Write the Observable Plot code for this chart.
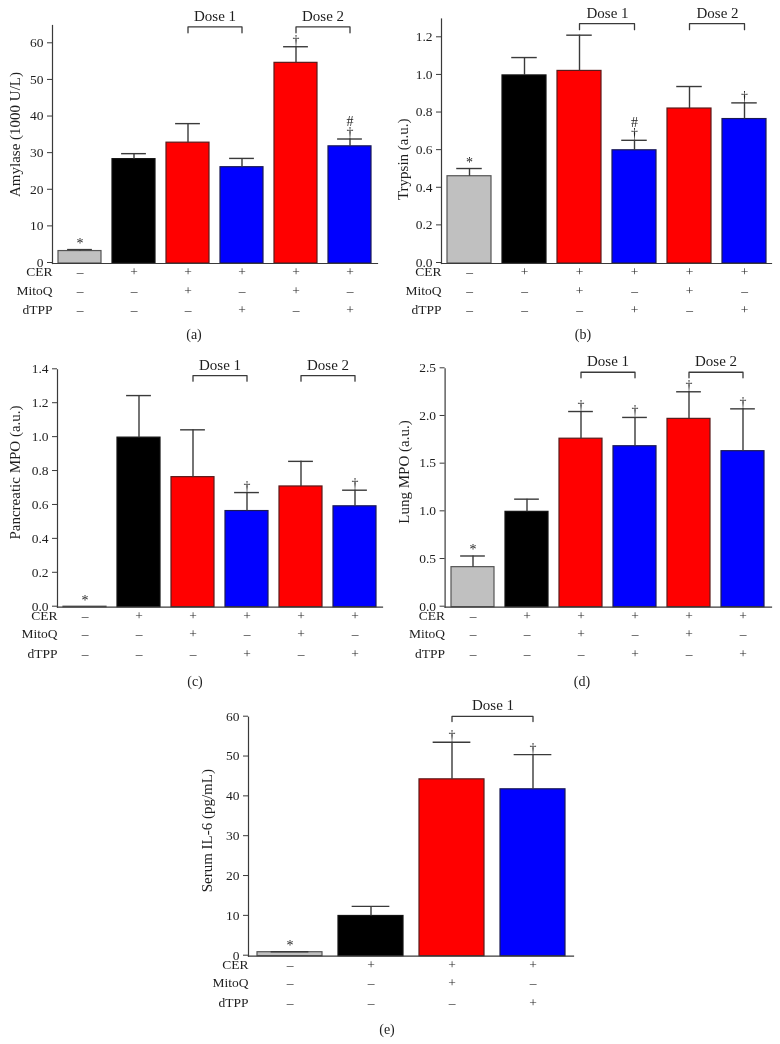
<!DOCTYPE html>
<html>
<head>
<meta charset="utf-8">
<script src="https://cdn.jsdelivr.net/npm/d3@7"></script>
<script src="https://cdn.jsdelivr.net/npm/@observablehq/plot@0.6"></script>
<style>
  html, body { margin: 0; padding: 0; background: #fff; }
  #root { position: relative; width: 780px; height: 1044px; overflow: hidden; font-family: "Liberation Serif", serif; color: #222; }
  #root svg { position: absolute; overflow: visible; will-change: transform; }
  .cap { position: absolute; font-size: 14px; transform: translate(-50%, -50%); will-change: transform; }
</style>
</head>
<body>
<div id="root"></div>
<script>
// ---------- data ----------
const groups = ["Control", "CER", "CER+MitoQ (Dose 1)", "CER+dTPP (Dose 1)", "CER+MitoQ (Dose 2)", "CER+dTPP (Dose 2)"];
const groupsIL6 = ["Control", "CER", "CER+MitoQ (Dose 1)", "CER+dTPP (Dose 1)"];
const rowNames = ["CER", "MitoQ", "dTPP"];
const cerRow   = ["–", "+", "+", "+", "+", "+"];
const mitoqRow = ["–", "–", "+", "–", "+", "–"];
const dtppRow  = ["–", "–", "–", "+", "–", "+"];

const amylaseMean = [3.4, 28.5, 33.0, 26.3, 54.8, 32.0];
const amylaseSem  = [0.4, 1.5, 5.2, 2.4, 4.4, 2.0];
const amylaseSig  = ["*", "", "", "", "†", "#\n†"];
const amylaseTicks = [0, 10, 20, 30, 40, 50, 60];

const trypsinMean = [0.464, 1.0, 1.024, 0.602, 0.824, 0.768];
const trypsinSem  = [0.041, 0.095, 0.19, 0.053, 0.117, 0.086];
const trypsinSig  = ["*", "", "", "#\n†", "", "†"];
const trypsinTicks = [0, 0.2, 0.4, 0.6, 0.8, 1.0, 1.2];

const pancMpoMean = [0.003, 1.0, 0.767, 0.567, 0.712, 0.595];
const pancMpoSem  = [0, 0.248, 0.279, 0.109, 0.148, 0.095];
const pancMpoSig  = ["*", "", "", "†", "", "†"];
const pancMpoTicks = [0, 0.2, 0.4, 0.6, 0.8, 1.0, 1.2, 1.4];

const lungMpoMean = [0.42, 1.0, 1.767, 1.688, 1.975, 1.636];
const lungMpoSem  = [0.117, 0.133, 0.285, 0.302, 0.284, 0.444];
const lungMpoSig  = ["*", "", "†", "†", "†", "†"];
const lungMpoTicks = [0, 0.5, 1.0, 1.5, 2.0, 2.5];

const il6Mean = [1.0, 10.1, 44.4, 41.9];
const il6Sem  = [0.1, 2.4, 9.3, 8.7];
const il6Sig  = ["*", "", "†", "†"];
const il6Ticks = [0, 10, 20, 30, 40, 50, 60];

const doseNames = ["Dose 1", "Dose 2"];
const doseFrom  = [groups[2], groups[4]];
const doseTo    = [groups[3], groups[5]];

// ---------- drawing ----------
const FONT = "Liberation Serif";
const AXIS = "#3a3a3a";
const INK = "#1e1e1e";

function fillOf(i) {
  if (cerRow[i] !== "+") return "#c0c0c0";
  if (mitoqRow[i] === "+") return "#ff0000";
  if (dtppRow[i] === "+") return "#0000ff";
  return "#000000";
}
function strokeOf(i) {
  if (cerRow[i] !== "+") return "#555555";
  if (mitoqRow[i] === "+") return "#5a1a1a";
  if (dtppRow[i] === "+") return "#1a1a55";
  return "#111111";
}

function panel(p) {
  const g = p.groups;
  const data = g.map((name, i) => ({
    g: name, v: p.mean[i], e: p.sem[i], top: p.mean[i] + p.sem[i], sig: p.sig[i],
    fill: fillOf(i), stroke: strokeOf(i)
  }));
  const frameW = p.width - p.ml - p.mr;
  const band = frameW / g.length * 0.8;
  const inset = band * 0.21;
  const nB = p.doses;
  const bracketPts = [];
  for (let k = 0; k < nB; k++) {
    bracketPts.push({z: k, x: doseFrom[k], y: p.tipLevel});
    bracketPts.push({z: k, x: doseFrom[k], y: p.bracketLevel});
    bracketPts.push({z: k, x: doseTo[k], y: p.bracketLevel});
    bracketPts.push({z: k, x: doseTo[k], y: p.tipLevel});
  }
  const doseLabels = d3.range(nB).map(k => ({x1: doseFrom[k], label: doseNames[k]}));
  const rows = [cerRow, mitoqRow, dtppRow];
  const rowDy = [12.5, 31, 50.5];
  const tableMarks = [];
  rows.forEach((row, r) => {
    tableMarks.push(Plot.text(g, {x: d => d, text: (d, i) => row[i], frameAnchor: "bottom", dy: rowDy[r], fontSize: 13.5, fill: INK}));
    tableMarks.push(Plot.text([rowNames[r]], {frameAnchor: "bottom-left", dy: rowDy[r], dx: 0, textAnchor: "end", fontSize: 13.5, fill: INK}));
  });

  const svg = Plot.plot({
    width: p.width, height: p.height,
    marginLeft: p.ml, marginRight: p.mr, marginTop: p.mt, marginBottom: p.mb,
    style: {fontFamily: FONT, fontSize: "14px", color: INK, background: "transparent", overflow: "visible"},
    x: {domain: g, paddingInner: 0.2, paddingOuter: 0.1, axis: null},
    y: {domain: [0, p.yMax], axis: null},
    marks: [
      Plot.barY(data, {x: "g", y: "v", fill: "fill", stroke: "stroke", strokeWidth: 1.2}),
      Plot.ruleX(data.filter(d => d.e > 0), {x: "g", y1: "v", y2: "top", stroke: AXIS, strokeWidth: 1.4}),
      Plot.tickY(data.filter(d => d.e > 0), {x: "g", y: "top", stroke: AXIS, strokeWidth: 1.4, insetLeft: inset, insetRight: inset}),
      Plot.frame({anchor: "left", stroke: AXIS, strokeWidth: 1.2}),
      Plot.frame({anchor: "bottom", stroke: AXIS, strokeWidth: 1.2}),
      Plot.axisY({ticks: p.ticks, tickFormat: p.fmt, tickSize: 5, tickPadding: 4, label: null, stroke: AXIS, fontSize: 13.5, fill: INK, dy: -1}),
      Plot.text(data.filter(d => d.sig), {x: "g", y: "top", text: "sig", lineAnchor: "bottom", dy: -2, lineHeight: 0.8, fontSize: 14, fill: INK}),
      Plot.line(bracketPts, {x: "x", y: "y", z: "z", stroke: AXIS, strokeWidth: 1.3}),
      Plot.text(doseLabels, {x: d => d.x1, y: () => p.bracketLevel, text: "label", dx: p.labelDx, dy: -6, lineAnchor: "bottom", fontSize: 15, fill: INK}),
      Plot.text([p.yLabel], {frameAnchor: "left", rotate: -90, dx: p.labelX, dy: p.labelShift, textAnchor: "middle", lineAnchor: "middle", fontSize: 15, fill: INK}),
      ...tableMarks
    ]
  });
  svg.style.left = p.left + "px";
  svg.style.top = p.top + "px";
  return svg;
}

const root = document.getElementById("root");
const f1 = d3.format(".1f");

const panels = [
  {groups, mean: amylaseMean, sem: amylaseSem, sig: amylaseSig, ticks: amylaseTicks, fmt: d3.format("d"), yMax: 65,
   yLabel: "Amylase (1000 U/L)", left: 0, top: 0, width: 390, height: 330, ml: 52, mr: 13, mt: 25, mb: 67,
   doses: 2, bracketLevel: 64.6, tipLevel: 63.0, labelDx: 27, labelX: -37, labelShift: -10},
  {groups, mean: trypsinMean, sem: trypsinSem, sig: trypsinSig, ticks: trypsinTicks, fmt: f1, yMax: 1.3,
   yLabel: "Trypsin (a.u.)", left: 390, top: 0, width: 390, height: 330, ml: 51, mr: 9, mt: 18.5, mb: 67,
   doses: 2, bracketLevel: 1.275, tipLevel: 1.243, labelDx: 28, labelX: -38, labelShift: 18},
  {groups, mean: pancMpoMean, sem: pancMpoSem, sig: pancMpoSig, ticks: pancMpoTicks, fmt: f1, yMax: 1.4,
   yLabel: "Pancreatic MPO (a.u.)", left: 0, top: 330, width: 390, height: 350, ml: 57, mr: 8, mt: 39.3, mb: 73.3,
   doses: 2, bracketLevel: 1.366, tipLevel: 1.333, labelDx: 27, labelX: -42, labelShift: -16},
  {groups, mean: lungMpoMean, sem: lungMpoSem, sig: lungMpoSig, ticks: lungMpoTicks, fmt: f1, yMax: 2.5,
   yLabel: "Lung MPO (a.u.)", left: 390, top: 330, width: 390, height: 350, ml: 54.6, mr: 9, mt: 38.3, mb: 73.3,
   doses: 2, bracketLevel: 2.464, tipLevel: 2.405, labelDx: 27, labelX: -41, labelShift: -16},
  {groups: groupsIL6, mean: il6Mean, sem: il6Sem, sig: il6Sig, ticks: il6Ticks, fmt: d3.format("d"), yMax: 60,
   yLabel: "Serum IL-6 (pg/mL)", left: 0, top: 680, width: 780, height: 360, ml: 248, mr: 207, mt: 36.7, mb: 84.3,
   doses: 1, bracketLevel: 60.2, tipLevel: 58.9, labelDx: 41, labelX: -41, labelShift: -6}
];
panels.forEach(p => root.appendChild(panel(p)));

const caps = [["(a)", 194, 335], ["(b)", 583, 335], ["(c)", 195, 682], ["(d)", 582, 682], ["(e)", 387, 1030]];
caps.forEach(([t, x, y]) => {
  const d = document.createElement("div");
  d.className = "cap";
  d.textContent = t;
  d.style.left = x + "px";
  d.style.top = y + "px";
  root.appendChild(d);
});
</script>
</body>
</html>
